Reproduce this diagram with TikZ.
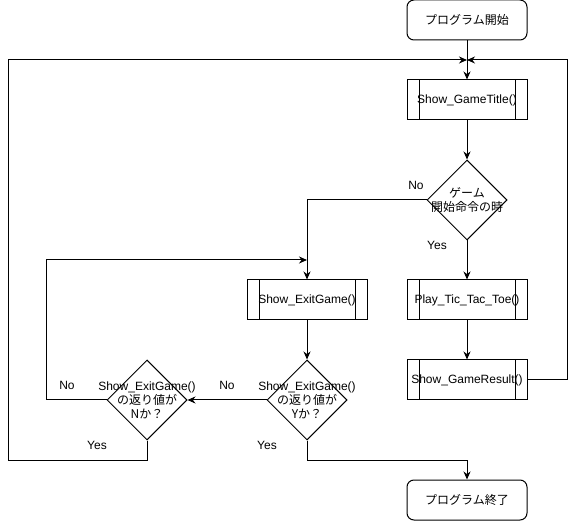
\documentclass[tikz,border=0pt]{standalone}
\usepackage{fontspec}
\setmainfont{Liberation Sans}
\newfontfamily\lat{Liberation Sans}
\newfontfamily\jp{Noto Sans CJK JP}
\usetikzlibrary{shapes.geometric,arrows.meta}
\begin{document}
\begin{tikzpicture}[x=1pt,y=-1pt,line width=1pt,
  font=\fontsize{12}{14}\selectfont,
  term/.style={draw,rounded corners=7pt,minimum width=120pt,minimum height=40pt,inner sep=0pt},
  proc/.style={draw,minimum width=120pt,minimum height=40pt,inner sep=0pt,
    path picture={
      \draw[line width=1pt] ([xshift=12pt]path picture bounding box.north west) -- ([xshift=12pt]path picture bounding box.south west);
      \draw[line width=1pt] ([xshift=-12pt]path picture bounding box.north east) -- ([xshift=-12pt]path picture bounding box.south east);
    }},
  dec/.style={draw,diamond,minimum width=80pt,minimum height=80pt,inner sep=0pt},
  dtext/.style={align=center,inner sep=0pt,font=\fontsize{12}{14}\selectfont},
  arr/.style={-{Stealth[length=8pt,width=7pt]}},
  lbl/.style={inner sep=0pt}
]
\fill[white] (0,0) rectangle (576,521);
\useasboundingbox (0,0) rectangle (576,521);

\node[term] (start) at (467,20) {\jp プログラム開始};
\node[proc] (title) at (467,100) {Show\_GameTitle()};
\node[dec] (d1) at (467,200) {};
\node[dtext] (d1t) at (467,200) {{\jp ゲーム}\\{\jp 開始命令の時}};
\node[proc] (exit) at (307,300) {Show\_ExitGame()};
\node[proc] (play) at (467,300) {Play\_Tic\_Tac\_Toe()};
\node[proc] (result) at (467,380) {Show\_GameResult()};
\node[dec] (d2) at (307,400) {};
\node[dtext] (d2t) at (307,400) {{\lat Show\_ExitGame()}\\{\jp の返り値が}\\{\jp Yか？}};
\node[dec] (d3) at (147,400) {};
\node[dtext] (d3t) at (147,400) {{\lat Show\_ExitGame()}\\{\jp の返り値が}\\{\jp Nか？}};
\node[term] (end) at (467,500) {\jp プログラム終了};

\coordinate (merge) at (467,60);
\coordinate (join) at (307,260);

\draw[arr] (start) -- (title);
\draw[arr] (title) -- (d1);
\draw[arr] (d1.south) -- (play.north);
\draw[arr] (play) -- (result);
\draw[arr] (result.east) -- ++(40,0) |- (merge);
\draw[arr] (d1.west) -| (exit.north);
\draw[arr] (exit) -- (d2);
\draw[arr] (d2.west) -- (d3.east);
\draw[arr] (d3.west) -- ++(-60,0) |- (join);
\draw[arr] (d3.south) -- ++(0,20) -- ++(-139,0) |- (merge);
\draw[arr] (d2.south) -- ++(0,20) -| (end.north);

\node[lbl] (l1) at (416,185) {No};
\node[lbl] (l2) at (437,245) {Yes};
\node[lbl] (l3) at (227,385) {No};
\node[lbl] (l4) at (267,445) {Yes};
\node[lbl] (l5) at (67,385) {No};
\node[lbl] (l6) at (97,445) {Yes};
\end{tikzpicture}
\end{document}
